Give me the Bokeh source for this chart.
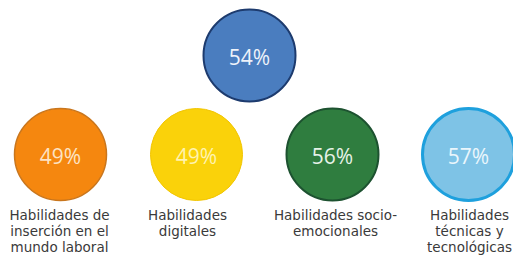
from bokeh.plotting import figure
from bokeh.models import Range1d, ColumnDataSource
from bokeh.core.properties import value
from bokeh.embed import file_html
from bokeh.resources import INLINE

# ---- data ----
categories = [
    "Total",
    "Habilidades de\ninserción en el\nmundo laboral",
    "Habilidades\ndigitales",
    "Habilidades socio-\nemocionales",
    "Habilidades\ntécnicas y\ntecnológicas",
]
values = [54, 49, 49, 56, 57]

# ---- styles ----
fills = ["#4a7dbf", "#f5870f", "#fad20a", "#2f7d3f", "#7ec3e6"]
outlines = ["#1d3b6e", "#c9761d", "#f2c500", "#1d5230", "#1ea0dd"]
outline_w = [2, 1.5, 1, 2, 3]
pct_colors = ["#eef2fa", "#fde3c4", "#fff3b0", "#e6f2e8", "#eaf6fc"]

# ---- layout (pixel-like coordinates) ----
W, H = 513, 255
top_x, top_y = 249, 55
row_x0, row_dx, row_y = 60, 136, 154
R = 46
label_y0, label_dy = 214, 16

xs, ys = [top_x], [top_y]
for i in range(1, len(values)):
    xs.append(row_x0 + (i - 1) * row_dx)
    ys.append(row_y)

p = figure(width=W, height=H, output_backend="svg", toolbar_location=None,
           x_range=Range1d(0, W), y_range=Range1d(H, 0),
           min_border=0)
p.axis.visible = False
p.grid.visible = False
p.outline_line_color = None
p.background_fill_color = "white"

src = ColumnDataSource(dict(x=xs, y=ys, fill=fills, line=outlines, lw=outline_w,
                            pct=[f"{v}%" for v in values], pc=pct_colors))
p.circle(x="x", y="y", radius=R, fill_color="fill", line_color="line",
         line_width="lw", source=src)
p.text(x="x", y="y", text="pct", text_color="pc", text_font=value("Open Sans"),
       text_font_size="21px", text_align="center", text_baseline="middle",
       y_offset=1, source=src)

lx, ly, lt = [], [], []
label_shift = [0, -1, -9, 3, 1]
for i, cat in enumerate(categories):
    if i == 0:
        continue
    for k, line in enumerate(cat.split("\n")):
        lx.append(xs[i] + label_shift[i])
        ly.append(label_y0 + k * label_dy)
        lt.append(line)
p.text(x=lx, y=ly, text=lt, text_color="#3a3a3a", text_font=value("DejaVu Sans"),
       text_font_size="13.5px", text_align="center", text_baseline="middle")

open("out.html", "w").write(file_html(p, INLINE))
